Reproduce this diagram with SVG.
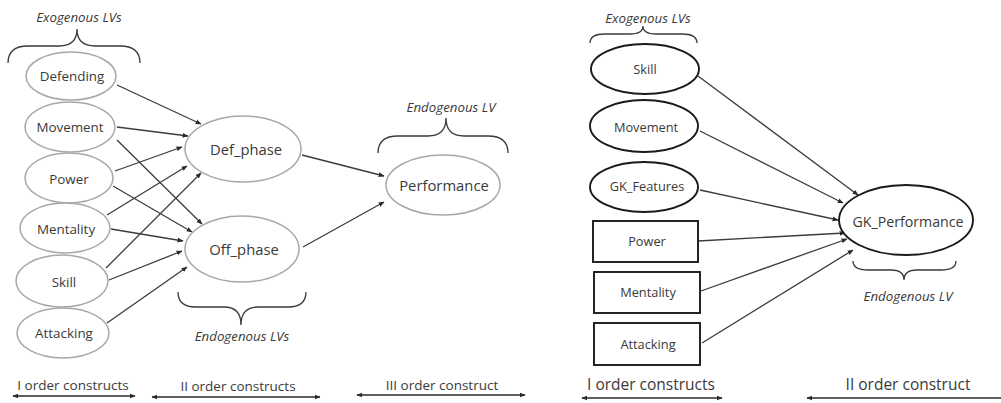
<svg xmlns="http://www.w3.org/2000/svg" width="1001" height="403" viewBox="0 0 1001 403">
  <style>
    .bg { fill: #ffffff; }
    .lv { fill: #ffffff; stroke: #a8a8a8; stroke-width: 1.5; }
    .lv2 { fill: #ffffff; stroke: #1a1a1a; stroke-width: 1.9; }
    .lbl { font-family: "Open Sans", "Noto Sans", sans-serif; fill: #3a3a3a; text-anchor: middle; dominant-baseline: central; }
    .note { font-family: "Open Sans", "Noto Sans", sans-serif; fill: #3a3a3a; text-anchor: middle; font-style: italic; font-size: 13.3px; }
    .brace { fill: none; stroke: #3a3a3a; stroke-width: 1.3; }
    .edge { fill: none; stroke: #3c3c3c; stroke-width: 1.3; marker-end: url(#head); }
    .span { fill: none; stroke: #2a2a2a; stroke-width: 1.4; marker-start: url(#tip); marker-end: url(#tip); }
    .span1 { fill: none; stroke: #2a2a2a; stroke-width: 1.4; marker-start: url(#tip); }
  </style>
  <defs>
    <marker id="head" viewBox="0 0 10 10" refX="9" refY="5" markerWidth="6" markerHeight="6" markerUnits="userSpaceOnUse" orient="auto">
      <path d="M0,1 L10,5 L0,9 z" fill="#2a2a2a"/>
    </marker>
    <marker id="tip" viewBox="0 0 10 10" refX="9" refY="5" markerWidth="6" markerHeight="6" markerUnits="userSpaceOnUse" orient="auto-start-reverse">
      <path d="M0,1 L10,5 L0,9 z" fill="#2a2a2a"/>
    </marker>
  </defs>
  <rect class="bg" x="0" y="0" width="1001" height="403"/>

  <!-- Left model: connectors -->
  <g id="edges-left">
    <line class="edge" x1="117" y1="85" x2="201" y2="124"/>
    <line class="edge" x1="117" y1="127" x2="188" y2="136"/>
    <line class="edge" x1="117" y1="140" x2="202" y2="224"/>
    <line class="edge" x1="115" y1="171" x2="182" y2="147"/>
    <line class="edge" x1="113" y1="186" x2="192" y2="232"/>
    <line class="edge" x1="107" y1="215" x2="187" y2="166"/>
    <line class="edge" x1="111" y1="229" x2="183" y2="241"/>
    <line class="edge" x1="106" y1="268" x2="201" y2="173"/>
    <line class="edge" x1="109" y1="280" x2="182" y2="251"/>
    <line class="edge" x1="107" y1="323" x2="187" y2="267"/>
    <line class="edge" x1="302" y1="155" x2="384" y2="176"/>
    <line class="edge" x1="303" y1="247" x2="384" y2="202"/>
  </g>

  <!-- Left model: exogenous LVs -->
  <g id="defending"><ellipse class="lv" cx="71" cy="76" rx="45" ry="24"/><text class="lbl" x="72" y="76" font-size="13.4">Defending</text></g>
  <g id="movement"><ellipse class="lv" cx="70" cy="127" rx="45" ry="25"/><text class="lbl" x="70" y="127" font-size="13.4">Movement</text></g>
  <g id="power"><ellipse class="lv" cx="69" cy="178" rx="44" ry="25"/><text class="lbl" x="69" y="179" font-size="13.4">Power</text></g>
  <g id="mentality"><ellipse class="lv" cx="65" cy="228" rx="45" ry="25"/><text class="lbl" x="66" y="229" font-size="13.4">Mentality</text></g>
  <g id="skill"><ellipse class="lv" cx="62" cy="281" rx="46" ry="26"/><text class="lbl" x="64" y="282" font-size="13.4">Skill</text></g>
  <g id="attacking"><ellipse class="lv" cx="63" cy="333" rx="46" ry="25"/><text class="lbl" x="64" y="333" font-size="13.4">Attacking</text></g>

  <!-- Left model: endogenous LVs -->
  <g id="def-phase"><ellipse class="lv" cx="243" cy="149" rx="58" ry="33"/><text class="lbl" x="246" y="149" font-size="14.8">Def_phase</text></g>
  <g id="off-phase"><ellipse class="lv" cx="242" cy="249" rx="57" ry="33"/><text class="lbl" x="244" y="249" font-size="14.8">Off_phase</text></g>
  <g id="performance"><ellipse class="lv" cx="443" cy="185" rx="57" ry="30"/><text class="lbl" x="444" y="185" font-size="14.8">Performance</text></g>

  <!-- Left model: braces and captions -->
  <g id="notes-left">
    <text class="note" x="79" y="22">Exogenous LVs</text>
    <path class="brace" d="M8,63 Q8,46 28,46 L59,46 Q77,46 77,29 Q77,46 95,46 L120,46 Q140,46 140,63"/>
    <text class="note" x="451" y="112">Endogenous LV</text>
    <path class="brace" d="M378,153 Q378,136 398,136 L428,136 Q446,136 446,118 Q446,136 464,136 L488,136 Q508,136 508,153"/>
    <path class="brace" d="M178,292 Q178,307 196,307 L224,307 Q241,307 241,325 Q241,307 258,307 L288,307 Q306,307 306,292"/>
    <text class="note" x="242" y="341">Endogenous LVs</text>
  </g>

  <!-- Left model: construct orders -->
  <g id="orders-left">
    <text class="lbl" x="73" y="385" font-size="13.5">I order constructs</text>
    <line class="span" x1="13" y1="396" x2="135" y2="396"/>
    <text class="lbl" x="238" y="386" font-size="13.5">II order constructs</text>
    <line class="span" x1="152" y1="397" x2="320" y2="397"/>
    <text class="lbl" x="442" y="385" font-size="13.5">III order construct</text>
    <line class="span" x1="357" y1="395" x2="525" y2="395"/>
  </g>

  <!-- Right model: connectors -->
  <g id="edges-right">
    <line class="edge" x1="698" y1="76" x2="858" y2="195"/>
    <line class="edge" x1="700" y1="131" x2="843" y2="203"/>
    <line class="edge" x1="700" y1="190" x2="838" y2="220"/>
    <line class="edge" x1="698" y1="241" x2="845" y2="233"/>
    <line class="edge" x1="701" y1="291" x2="847" y2="239"/>
    <line class="edge" x1="702" y1="343" x2="853" y2="250"/>
  </g>

  <!-- Right model: exogenous LVs -->
  <g id="gk-skill"><ellipse class="lv2" cx="645" cy="69" rx="54" ry="25"/><text class="lbl" x="645" y="69" font-size="12.8">Skill</text></g>
  <g id="gk-movement"><ellipse class="lv2" cx="644" cy="126" rx="54" ry="26"/><text class="lbl" x="646" y="127" font-size="12.8">Movement</text></g>
  <g id="gk-features"><ellipse class="lv2" cx="644" cy="187" rx="54" ry="25"/><text class="lbl" x="647" y="186" font-size="12.8">GK_Features</text></g>
  <g id="gk-power"><rect class="lv2" x="593" y="221" width="105" height="41"/><text class="lbl" x="647" y="241" font-size="12.8">Power</text></g>
  <g id="gk-mentality"><rect class="lv2" x="594" y="272" width="106" height="41"/><text class="lbl" x="648" y="292" font-size="12.8">Mentality</text></g>
  <g id="gk-attacking"><rect class="lv2" x="594" y="323" width="106" height="42"/><text class="lbl" x="648" y="344" font-size="12.8">Attacking</text></g>

  <!-- Right model: endogenous LV -->
  <g id="gk-performance"><ellipse class="lv2" cx="906" cy="220" rx="67" ry="35"/><text class="lbl" x="908" y="221" font-size="14.2">GK_Performance</text></g>

  <!-- Right model: braces and captions -->
  <g id="notes-right">
    <text class="note" x="648" y="23">Exogenous LVs</text>
    <path class="brace" d="M590,43 Q590,34 605,34 L630,34 Q643,34 643,26 Q643,34 656,34 L682,34 Q697,34 697,43"/>
    <path class="brace" d="M853,261 Q853,270 868,270 L891,270 Q904,270 904,280 Q904,270 917,270 L941,270 Q956,270 956,261"/>
    <text class="note" x="908" y="301">Endogenous LV</text>
  </g>

  <!-- Right model: construct orders -->
  <g id="orders-right">
    <text class="lbl" x="651" y="384" font-size="15.5">I order constructs</text>
    <line class="span" x1="582" y1="398" x2="722" y2="398"/>
    <text class="lbl" x="908" y="384" font-size="15.5">II order construct</text>
    <line class="span1" x1="807" y1="398" x2="1001" y2="398"/>
  </g>
</svg>
